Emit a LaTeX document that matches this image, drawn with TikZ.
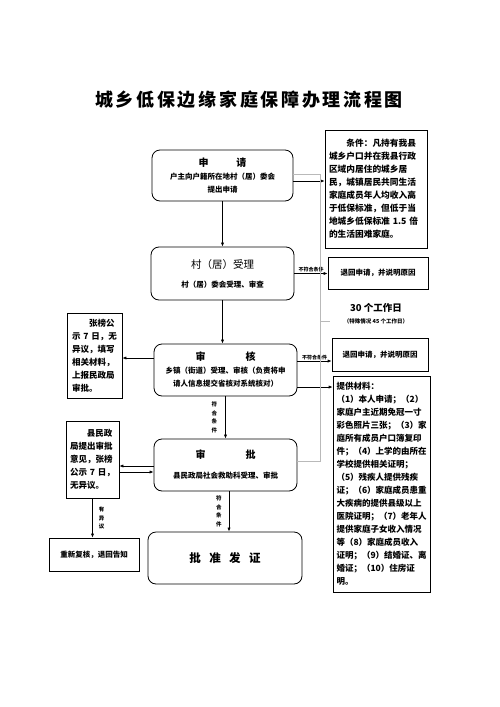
\documentclass[tikz,border=0pt]{standalone}
\usepackage{fontspec}
\setmainfont{Noto Sans CJK SC}
\usepackage{tikz}
\usetikzlibrary{arrows.meta, positioning, calc}

\begin{document}
\begin{tikzpicture}[
  x=1pt, y=-1pt,
  stage/.style={draw, rounded corners=8pt, line width=0.8pt, align=center,
    minimum width=143pt, minimum height=52pt, font=\bfseries\fontsize{7.5}{13}\selectfont},
  note/.style={draw, line width=0.7pt, align=left, inner ysep=0pt,
    font=\bfseries\fontsize{8.5}{13}\selectfont},
  back/.style={draw, line width=0.7pt, align=center, minimum height=33pt,
    font=\bfseries\fontsize{7.5}{9}\selectfont},
  arr/.style={-{Latex[length=4pt, width=3.2pt]}, line width=0.7pt},
  grayline/.style={draw=gray!55, line width=0.8pt},
  tag/.style={font=\bfseries\fontsize{5}{8}\selectfont, inner sep=1pt, align=center}
]
\useasboundingbox (0,0) rectangle (500,707);

% Title
\node[font=\bfseries\fontsize{18}{18}\selectfont\addfontfeatures{LetterSpace=15}] (title) at (249,100) {城乡低保边缘家庭保障办理流程图};

% Main stages
\node[stage, minimum width=141pt, minimum height=51pt] (apply) at (222.5,175.5)
  {{\fontsize{10}{13}\selectfont 申\hspace{28pt}请}\\户主向户籍所在地村（居）委会\\提出申请};
\node[stage, minimum height=53pt] (accept) at (222.5,273.5)
  {{\mdseries\fontsize{10.5}{13}\selectfont 村（居）受理}\\[6pt]村（居）委会受理、审查};
\node[stage] (review) at (225.5,370)
  {{\fontsize{10}{13}\selectfont 审\hspace{40pt}核}\\乡镇（街道）受理、审核（负责将申\\请人信息提交省核对系统核对）};
\node[stage] (approve) at (225.5,465)
  {{\fontsize{10}{13}\selectfont 审\hspace{40pt}批}\\[7pt]县民政局社会救助科受理、审批};
\node[stage, minimum width=154pt] (issue) at (225,558)
  {{\fontsize{11.5}{13}\selectfont 批\hspace{8.5pt}准\hspace{8.5pt}发\hspace{8.5pt}证}};

% Right column
\node[note, text width=94pt, inner xsep=4pt, minimum height=118pt, font=\bfseries\fontsize{8.7}{13}\selectfont] (cond) at (376,189)
  {\hspace*{2em}条件：凡持有我县\\城乡户口并在我县行政\\区域内居住的城乡居\\民，城镇居民共同生活\\家庭成员年人均收入高\\于低保标准，但低于当\\地城乡低保标准~1.5~倍\\的生活困难家庭。};
\node[back, minimum width=100pt, minimum height=32pt] (reject1) at (378,273) {退回申请，并说明原因};
\node[font=\bfseries\fontsize{9.5}{10}\selectfont] (days) at (376,308) {30 个工作日};
\node[font=\bfseries\fontsize{5.5}{6}\selectfont] (daysnote) at (376,321) {（特殊情况 45 个工作日）};
\node[back, minimum width=96pt] (reject2) at (380,354.5) {退回申请，并说明原因};
\node[note, text width=90pt, inner xsep=3.5pt, minimum height=216pt] (material) at (381.5,484)
  {提供材料：\\（1）本人申请；（2）\\家庭户主近期免冠一寸\\彩色照片三张；（3）家\\庭所有成员户口簿复印\\件；（4）上学的由所在\\学校提供相关证明；\\（5）残疾人提供残疾\\证；（6）家庭成员患重\\大疾病的提供县级以上\\医院证明；（7）老年人\\提供家庭子女收入情况\\等（8）家庭成员收入\\证明；（9）结婚证、离\\婚证；（10）住房证\\明。};

% Left column
\node[note, text width=45pt, inner xsep=5pt, minimum height=85pt] (publish) at (94.5,355.5)
  {\hspace*{2em}张榜公\\示 7 日，无\\异议，填写\\相关材料，\\上报民政局\\审批。};
\node[note, text width=45pt, inner xsep=4pt, minimum height=77pt] (county) at (92.5,459.5)
  {\hspace*{2em}县民政\\局提出审批\\意见，张榜\\公示 7 日，\\无异议。};
\node[back, minimum width=90pt] (recheck) at (94,554.5) {重新复核，退回告知};

% Main flow
\draw[arr] (apply.south) -- (apply.south |- accept.north);
\draw[arr] (accept.south) -- (accept.south |- review.north);
\draw[arr] (review.south) -- (review.south |- approve.north)
  node[tag, midway, left=7pt, font=\bfseries\fontsize{5.5}{8.5}\selectfont] {符\\合\\条\\件};
\coordinate (p1) at ([xshift=3.5pt]approve.south);
\draw[arr] (p1) -- (p1 |- issue.north)
  node[tag, midway, left=6pt, font=\bfseries\fontsize{5.5}{8.5}\selectfont] {符\\合\\条\\件};

% Side branches
\coordinate (a1) at ([yshift=-5.5pt]apply.east);
\draw[arr] (a1) -- (a1 -| cond.west);
\draw[arr] (accept.east) -- (accept.east -| reject1.west) node[tag, midway, above] {不符合条件};
\coordinate (r1) at ([yshift=9pt]review.east);
\draw[arr] (r1) -- (r1 -| reject2.west) node[tag, midway, above] {不符合条件};
\coordinate (r2) at ([yshift=-17pt]review.east);
\draw[arr] (r2) -- (r2 -| material.west);
\coordinate (r3) at ([yshift=12pt]review.west);
\draw[arr] (r3) -- (r3 -| publish.east);
\coordinate (c1) at ([yshift=-1pt]approve.west);
\draw[arr] (c1) -- (c1 -| county.east);
\coordinate (c2) at ([yshift=-7pt]approve.west);
\draw[arr] (c2 -| county.east) -- (c2);
\draw[arr] (county.south) -- (county.south |- recheck.north)
  node[tag, midway, right=5pt, font=\bfseries\fontsize{5.5}{8.5}\selectfont] {有\\异\\议};

% Time limit line
\coordinate (gtop) at (320,174);
\coordinate (gbot) at (320,461);
\draw[grayline] (apply.east |- gtop) -- (gtop) -- (gbot) -- (approve.east |- gbot);
\draw[grayline] (gtop |- daysnote) -- ([xshift=-10pt]daysnote.west);

\end{tikzpicture}
\end{document}
